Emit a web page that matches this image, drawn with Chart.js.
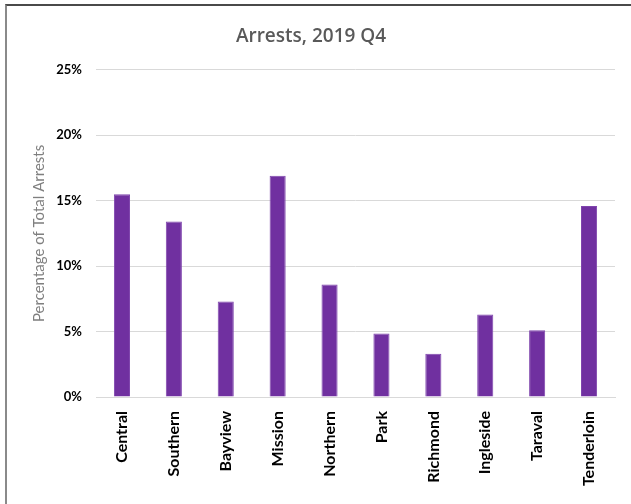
<!DOCTYPE html>
<html>
<head>
<meta charset="utf-8">
<script src="https://cdn.jsdelivr.net/npm/chart.js@4/dist/chart.umd.min.js"></script>
<style>
  body { margin: 0; background: #fff; }
  #frame {
    position: absolute; left: 5px; top: 4px; width: 626px; height: 500px;
    border-top: 2px solid #4a4a4a; border-left: 2px solid #8a8a8a;
  }
  #wrap { position: relative; width: 624px; height: 498px; }
</style>
</head>
<body>
<div id="frame"><div id="wrap"><canvas id="barChart"></canvas></div></div>
<script>
const districts = ['Central', 'Southern', 'Bayview', 'Mission', 'Northern', 'Park', 'Richmond', 'Ingleside', 'Taraval', 'Tenderloin'];
const arrestShare = [15.5, 13.4, 7.3, 16.9, 8.6, 4.85, 3.3, 6.3, 5.1, 14.6];
const yTicks = [0, 5, 10, 15, 20, 25];

const ctx = document.getElementById('barChart').getContext('2d');
new Chart(ctx, {
    type: 'bar',
    data: {
        labels: districts,
        datasets: [{
            label: 'Percentage of Total Arrests',
            data: arrestShare,
            backgroundColor: '#7030a0',
            borderColor: '#7f45ad',
            borderWidth: 1,
            barPercentage: 0.31,
            categoryPercentage: 1
        }]
    },
    options: {
        responsive: true,
        maintainAspectRatio: false,
        animation: false,
        layout: { padding: { top: 0, right: 16, bottom: 0, left: 0 } },
        plugins: {
            legend: { display: false },
            tooltip: { enabled: false },
            title: {
                display: true,
                text: 'Arrests, 2019 Q4',
                color: '#595959',
                font: { family: 'Open Sans', size: 19, weight: '600' },
                padding: { top: 19, bottom: 22 }
            }
        },
        scales: {
            x: {
                grid: { display: false, drawTicks: false },
                border: { color: '#d9d9d9' },
                ticks: {
                    color: '#000',
                    font: { family: 'Lato', size: 16, weight: 'bold' },
                    minRotation: 90,
                    maxRotation: 90,
                    padding: 14,
                    autoSkip: false
                },
                afterFit: function (scale) { scale.height = 107; }
            },
            y: {
                min: 0,
                max: 25,
                afterBuildTicks: function (scale) {
                    scale.ticks = yTicks.map(v => ({ value: v }));
                },
                grid: { color: '#d9d9d9', drawTicks: false },
                border: { display: false },
                ticks: {
                    color: '#000',
                    font: { family: 'Lato', size: 13, weight: 'bold' },
                    padding: 14,
                    callback: function (value) { return value + '%'; }
                },
                title: {
                    display: true,
                    text: 'Percentage of Total Arrests',
                    color: '#7f7f7f',
                    font: { family: 'Lato', size: 15, weight: 'normal' },
                    padding: { top: 23, bottom: 0 }
                },
                afterFit: function (scale) { scale.width = 89; }
            }
        }
    }
});
</script>
</body>
</html>
